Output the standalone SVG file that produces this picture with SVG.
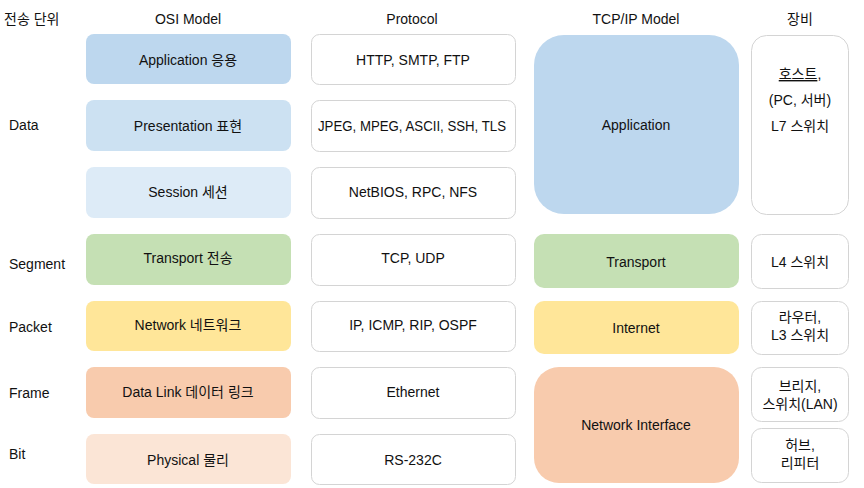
<svg xmlns="http://www.w3.org/2000/svg" width="864" height="488" viewBox="0 0 864 488">
<style>
text{font-family:"Liberation Sans","Noto Sans CJK KR",sans-serif;font-size:14px;fill:#111;}
.c{text-anchor:middle;}
.pb{fill:#fff;stroke:#d4d4d4;stroke-width:1;}
</style>
<rect width="864" height="488" fill="#fff"/>
<g id="headers">
<text x="4" y="24">전송 단위</text>
<text class="c" x="188" y="24">OSI Model</text>
<text class="c" x="412" y="24">Protocol</text>
<text class="c" x="636" y="24">TCP/IP Model</text>
<text class="c" x="800" y="24">장비</text>
</g>
<g id="units">
<text x="9" y="130">Data</text>
<text x="9" y="269">Segment</text>
<text x="9" y="332">Packet</text>
<text x="9" y="398">Frame</text>
<text x="9" y="459">Bit</text>
</g>
<g id="osi-application"><rect x="86" y="34" width="205" height="50" rx="8" fill="#BDD7EE"/><text class="c" x="188" y="65">Application 응용</text></g>
<g id="osi-presentation"><rect x="86" y="100" width="205" height="51" rx="8" fill="#CCE1F2"/><text class="c" x="188" y="131">Presentation 표현</text></g>
<g id="osi-session"><rect x="86" y="167" width="205" height="51" rx="8" fill="#DDEBF7"/><text class="c" x="188" y="197">Session 세션</text></g>
<g id="osi-transport"><rect x="86" y="234" width="205" height="51" rx="8" fill="#C5E0B4"/><text class="c" x="188" y="263">Transport 전송</text></g>
<g id="osi-network"><rect x="86" y="301" width="205" height="50" rx="8" fill="#FFE699"/><text class="c" x="188" y="330">Network 네트워크</text></g>
<g id="osi-datalink"><rect x="86" y="367" width="205" height="51" rx="8" fill="#F8CBAD"/><text class="c" x="188" y="397">Data Link 데이터 링크</text></g>
<g id="osi-physical"><rect x="86" y="434" width="205" height="50" rx="8" fill="#FBE5D6"/><text class="c" x="188" y="465">Physical 물리</text></g>

<g id="proto-app"><rect class="pb" x="311.5" y="34.5" width="204" height="50" rx="8"/><text class="c" x="413" y="65">HTTP, SMTP, FTP</text></g>
<g id="proto-pres"><rect class="pb" x="311.5" y="100.5" width="204" height="51" rx="8"/><text class="c" x="412" y="131" textLength="188" lengthAdjust="spacingAndGlyphs">JPEG, MPEG, ASCII, SSH, TLS</text></g>
<g id="proto-sess"><rect class="pb" x="311.5" y="167.5" width="204" height="51" rx="8"/><text class="c" x="413" y="197">NetBIOS, RPC, NFS</text></g>
<g id="proto-trans"><rect class="pb" x="311.5" y="234.5" width="204" height="51" rx="8"/><text class="c" x="413" y="263">TCP, UDP</text></g>
<g id="proto-net"><rect class="pb" x="311.5" y="301.5" width="204" height="50" rx="8"/><text class="c" x="413" y="330">IP, ICMP, RIP, OSPF</text></g>
<g id="proto-dl"><rect class="pb" x="311.5" y="367.5" width="204" height="51" rx="8"/><text class="c" x="413" y="397">Ethernet</text></g>
<g id="proto-phy"><rect class="pb" x="311.5" y="434.5" width="204" height="50" rx="8"/><text class="c" x="413" y="465">RS-232C</text></g>

<g id="tcp-application"><rect x="534" y="35" width="205" height="179" rx="30" fill="#BDD7EE"/><text class="c" x="636" y="130">Application</text></g>
<g id="tcp-transport"><rect x="534" y="234" width="205" height="54" rx="10" fill="#C5E0B4"/><text class="c" x="636" y="267">Transport</text></g>
<g id="tcp-internet"><rect x="534" y="301" width="205" height="53" rx="10" fill="#FFE699"/><text class="c" x="636" y="333">Internet</text></g>
<g id="tcp-netif"><rect x="534" y="367" width="205" height="116" rx="25" fill="#F8CBAD"/><text class="c" x="636" y="430">Network Interface</text></g>

<g id="dev-host"><rect class="pb" x="751.5" y="35.5" width="97" height="179" rx="15"/><text class="c" x="800" y="79"><tspan text-decoration="underline">호스트</tspan>,</text><text class="c" x="800" y="105">(PC, 서버)</text><text class="c" x="800" y="131">L7 스위치</text></g>
<g id="dev-l4"><rect class="pb" x="751.5" y="234.5" width="97" height="54" rx="10"/><text class="c" x="800" y="267">L4 스위치</text></g>
<g id="dev-router"><rect class="pb" x="751.5" y="301.5" width="97" height="53" rx="10"/><text class="c" x="800" y="322">라우터,</text><text class="c" x="800" y="340">L3 스위치</text></g>
<g id="dev-bridge"><rect class="pb" x="751.5" y="367.5" width="97" height="54" rx="10"/><text class="c" x="800" y="391">브리지,</text><text class="c" x="800" y="409">스위치(LAN)</text></g>
<g id="dev-hub"><rect class="pb" x="751.5" y="428.5" width="97" height="54" rx="10"/><text class="c" x="800" y="450">허브,</text><text class="c" x="800" y="468">리피터</text></g>
<g id="connectors"></g>
</svg>
